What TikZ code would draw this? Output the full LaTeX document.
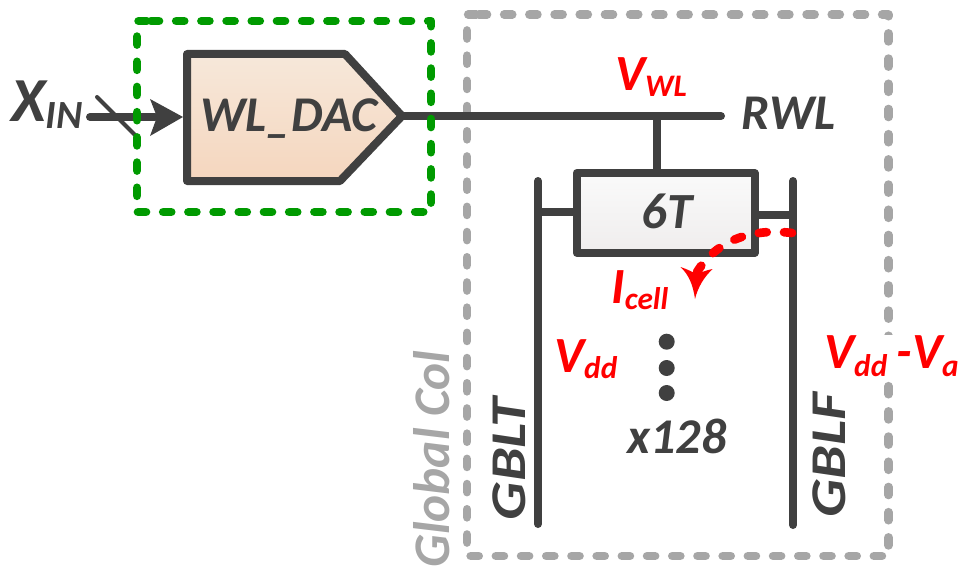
\documentclass[tikz,border=0pt]{standalone}
\usepackage{fontspec}
\setmainfont{Carlito}
\definecolor{dk}{HTML}{404040}
\definecolor{grn}{HTML}{009A00}
\definecolor{gry}{HTML}{A6A6A6}
\definecolor{rd}{HTML}{FF0000}
\definecolor{dacTop}{HTML}{F6E8DA}
\definecolor{dacBot}{HTML}{F5D6BE}
\definecolor{cellTop}{HTML}{FAFAFA}
\definecolor{cellBot}{HTML}{EFEDED}
\tikzset{
  wire/.style={draw=dk,line width=6pt,line cap=round,line join=round},
  slash/.style={draw=dk,line width=3pt,line cap=round},
  txt/.style={font=\bfseries\itshape,text=dk,inner sep=0pt},
  redtxt/.style={font=\bfseries\itshape,text=rd,inner sep=0pt,anchor=base west},
  dashgreen/.style={draw=grn,line width=6.5pt,line cap=round,line join=round,dash pattern=on 6pt off 12.9pt},
  dashgray/.style={draw=gry,line width=6.5pt,line cap=round,line join=round,dash pattern=on 6pt off 12.9pt},
  dot/.style={circle,fill=dk,inner sep=0pt,minimum size=12pt},
}
\newcommand{\fs}[1]{\fontsize{#1}{#1}\selectfont}
\newcommand{\sbs}[2][5]{\raisebox{-#1pt}{\fs{23.5}#2}}
\begin{document}
\begin{tikzpicture}[x=0.75pt,y=-0.75pt]
\useasboundingbox (0,0) rectangle (960,567);
% outer grey box
\draw[dashgray] (479,14.5) -- (888.5,14.5) -- (888.5,556) -- (467,556) -- (467,14.5) -- (479,14.5);
% wires
\coordinate (rwlend) at (721,116);
\coordinate (dacout) at (402,116);
\draw[wire] (dacout) -- (rwlend);
\coordinate (blt) at (538,181);
\coordinate (blb) at (538,524);
\coordinate (brt) at (793,181);
\coordinate (brb) at (793,525);
\draw[wire] (blt) -- (blb);
\draw[wire] (brt) -- (brb);
\draw[wire,line cap=butt] (538,212) -- (577,212);
\draw[wire,line cap=butt] (755,215) -- (793,215);
\draw[wire,line cap=butt] (656.7,116) -- (656.7,173);
% DAC
\draw[wire,top color=dacTop,bottom color=dacBot] (187,54) -- (345,54) -- (402,116) -- (340,181) -- (187,181) -- cycle;
\node[txt,anchor=base] (dac) at (289,132) {\fs{37.5}WL\_DAC};
% input
\coordinate (xs) at (90,117);
\coordinate (dacin) at (183,117);
\draw[wire] (xs) -- (155,117);
\fill[dk] (dacin) -- (150,99) -- (157,117) -- (150,136) -- cycle;
\coordinate (sa) at (97,97);
\coordinate (sb) at (135,135);
\draw[slash] (sa) -- (sb);
\node[txt,anchor=base west] (xin) at (11,122) {\fs{47}X\raisebox{-5pt}{\fs{30}IN}};
% green box
\draw[dashgreen] (151,21) -- (431,21) -- (431,212) -- (137,212) -- (137,21) -- (151,21);
% 6T
\node[draw=dk,line width=6pt,line join=round,top color=cellTop,bottom color=cellBot,minimum width=133.5pt,minimum height=60pt,inner sep=0pt] (cell) at (665.7,213) {};
\node[txt,anchor=base] (sixt) at (667,228) {\fs{38}6T};
% labels
\node[txt,anchor=base] (rwl) at (789,129) {\fs{37.5}RWL};
\node[redtxt] (vwl) at (615,90) {\fs{38}V\sbs{WL}};
% current
\draw[draw=rd,line width=6.5pt,line cap=round,dash pattern=on 6pt off 13pt] (792,233) .. controls (760,229) and (720,235) .. (697,272);
\fill[rd] (695,299) .. controls (693,285) and (689,275) .. (680.5,267) .. controls (687,269) and (692,272) .. (697,274) .. controls (702,272) and (707,270) .. (712.7,269) .. controls (704,277) and (698,287) .. (695,299) -- cycle;
\node[redtxt] (icell) at (611,303) {\fs{38}I\sbs[4.5]{cell}};
% dots
\node[dot] (d1) at (666.7,341.7) {};
\node[dot] (d2) at (666.7,368) {};
\node[dot] (d3) at (666.7,393) {};
\node[txt,anchor=base] (x128) at (677,453) {\fs{37.5}x128};
\node[redtxt] (vdd) at (554,372) {\fs{38}V\sbs{dd}};
\node[redtxt,fill=white] (vdda) at (824,368) {\rule[-10pt]{0pt}{33pt}\fs{38}V\sbs[6]{dd}\hspace{7pt}-V\sbs[6]{a}};
\node[txt,rotate=90] (gblt) at (509,459) {\scalebox{1.2}[1]{\fs{37.5}GBLT}};
\node[txt,rotate=90] (gblf) at (829,455) {\scalebox{1.2}[1]{\fs{37.5}GBLF}};
\node[font=\bfseries\itshape,text=gry,inner sep=0pt,rotate=90] (gc) at (432,459) {\fs{38.5}Global Col};
\end{tikzpicture}
\end{document}
